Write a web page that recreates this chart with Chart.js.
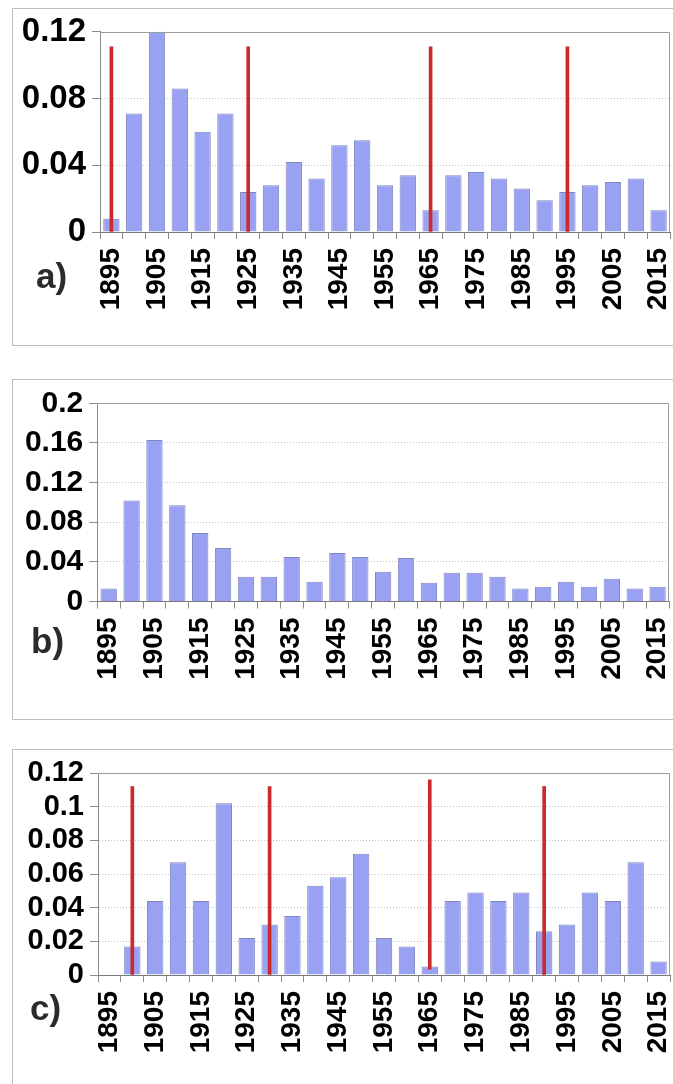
<!DOCTYPE html>
<html><head><meta charset="utf-8">
<script src="https://cdn.jsdelivr.net/npm/chart.js@4.4.1/dist/chart.umd.min.js"></script>
<style>
html,body{margin:0;padding:0;background:#fff;}
body{width:673px;height:1084px;position:relative;overflow:hidden;font-family:"Liberation Sans",Arial,sans-serif;}
.box{position:absolute;left:12px;width:700px;border:1px solid #bdbdbd;border-right:none;}
.cv{position:absolute;left:13px;}
.lab{position:absolute;font-weight:bold;font-size:35px;line-height:35px;color:#2b2b2b;white-space:nowrap;}
</style></head><body>
<div class="box" style="top:8px;height:336px"></div>
<div class="box" style="top:379px;height:339px"></div>
<div class="box" style="top:749px;height:400px;border-bottom:none"></div>
<canvas id="ca" class="cv" style="top:9px" width="660" height="336"></canvas>
<canvas id="cb" class="cv" style="top:380px" width="660" height="339"></canvas>
<canvas id="cc" class="cv" style="top:750px" width="660" height="334"></canvas>
<div class="lab" style="left:36px;top:258px">a)</div>
<div class="lab" style="left:31px;top:623px">b)</div>
<div class="lab" style="left:30px;top:990px">c)</div>
<script>
// ---- data ----
const years = ['1895','1900','1905','1910','1915','1920','1925','1930','1935','1940','1945','1950','1955','1960','1965','1970','1975','1980','1985','1990','1995','2000','2005','2010','2015'];

const valuesA = [0.008,0.071,0.120,0.086,0.060,0.071,0.024,0.028,0.042,0.032,0.052,0.055,0.028,0.034,0.013,0.034,0.036,0.032,0.026,0.019,0.024,0.028,0.030,0.032,0.013];
const valuesB = [0.013,0.102,0.163,0.097,0.069,0.054,0.025,0.025,0.045,0.020,0.049,0.045,0.030,0.044,0.019,0.029,0.029,0.025,0.013,0.015,0.020,0.015,0.023,0.013,0.015];
const valuesC = [null,0.017,0.044,0.067,0.044,0.102,0.022,0.030,0.035,0.053,0.058,0.072,0.022,0.017,0.005,0.044,0.049,0.044,0.049,0.026,0.030,0.049,0.044,0.067,0.008];

const markYearsA = ['1895','1925','1965','1995'];
const markLowA   = [0, 0, 0, 0];
const markHighA  = [0.111, 0.111, 0.111, 0.111];

const markYearsC = ['1900','1930','1965','1990'];
const markLowC   = [0, 0, 0.0035, 0];
const markHighC  = [0.112, 0.112, 0.116, 0.112];

const yTicksA = [0, 0.04, 0.08, 0.12];
const yTicksB = [0, 0.04, 0.08, 0.12, 0.16, 0.2];
const yTicksC = [0, 0.02, 0.04, 0.06, 0.08, 0.1, 0.12];

// ---- chart building ----
Chart.defaults.font.family = '"Liberation Sans", Arial, sans-serif';

function floating(yrs, lo, hi){
  return years.map(y => { const k = yrs.indexOf(y); return k < 0 ? null : [lo[k], hi[k]]; });
}

const frame = {
  id: 'frame',
  afterDraw(chart){
    const {ctx, chartArea:a} = chart;
    ctx.save();
    ctx.strokeStyle = '#9c9c9c';
    ctx.lineWidth = 1;
    ctx.beginPath();
    ctx.moveTo(Math.round(a.left)+0.5, Math.round(a.top)+0.5);
    ctx.lineTo(Math.round(a.right)-0.5, Math.round(a.top)+0.5);
    ctx.lineTo(Math.round(a.right)-0.5, Math.round(a.bottom));
    ctx.stroke();
    ctx.restore();
  }
};

function makeChart(id, values, marks, yTicks, cfg){
  const ymax = yTicks[yTicks.length-1];
  const step = yTicks[1]-yTicks[0];
  const datasets = [];
  if (marks) {
    datasets.push({
      data: marks,
      backgroundColor: '#cc2a2a',
      borderWidth: 0,
      barThickness: 3,
      grouped: false
    });
  }
  datasets.push({
    data: values,
    backgroundColor: '#99a2f2',
    borderColor: '#7f86bf',
    borderWidth: 1,
    barPercentage: 0.715,
    categoryPercentage: 1.0,
    grouped: false
  });
  return new Chart(document.getElementById(id), {
    type: 'bar',
    data: { labels: years, datasets },
    plugins: [frame],
    options: {
      responsive: false,
      animation: false,
      devicePixelRatio: 1,
      layout: { padding: { top: cfg.padTop, right: cfg.padRight, left: 0, bottom: 0 } },
      plugins: { legend: { display: false }, tooltip: { enabled: false } },
      scales: {
        x: {
          type: 'category',
          offset: true,
          grid: { offset: true, drawOnChartArea: false, drawTicks: true, tickLength: 7, tickColor: '#8a8a8a' },
          border: { color: '#7a7a7a' },
          ticks: {
            autoSkip: false, minRotation: 90, maxRotation: 90, padding: 9,
            color: '#000', font: { size: 28, weight: 'bold' },
            callback: (v, i) => (i % 2 === 0 ? years[i] : '')
          },
          afterFit: s => { s.height = cfg.xHeight; s.paddingLeft = 0; s.paddingRight = 0; }
        },
        y: {
          min: 0, max: ymax,
          ticks: {
            stepSize: step, autoSkip: false, color: '#000', padding: 6,
            font: { size: cfg.yFont, weight: 'bold' },
            callback: v => String(+(+v).toFixed(2))
          },
          grid: {
            color: c => (c.tick && (Math.abs(c.tick.value) < 1e-9 || Math.abs(c.tick.value - ymax) < 1e-9)) ? 'rgba(0,0,0,0)' : '#c4c4c4',
            tickColor: '#8a8a8a', tickLength: 8
          },
          border: { color: '#8a8a8a', dash: [1, 2] },
          afterFit: s => { s.width = cfg.yWidth; s.paddingTop = 0; s.paddingBottom = 0; }
        }
      }
    }
  });
}

makeChart('ca', valuesA, floating(markYearsA, markLowA, markHighA), yTicksA,
  { padTop: 22.7, padRight: 3, xHeight: 113, yWidth: 87, yFont: 33 });
makeChart('cb', valuesB, null, yTicksB,
  { padTop: 23.3, padRight: 4, xHeight: 117.5, yWidth: 84.3, yFont: 30 });
makeChart('cc', valuesC, floating(markYearsC, markLowC, markHighC), yTicksC,
  { padTop: 23, padRight: 3, xHeight: 109, yWidth: 85, yFont: 29 });
</script>
</body></html>
